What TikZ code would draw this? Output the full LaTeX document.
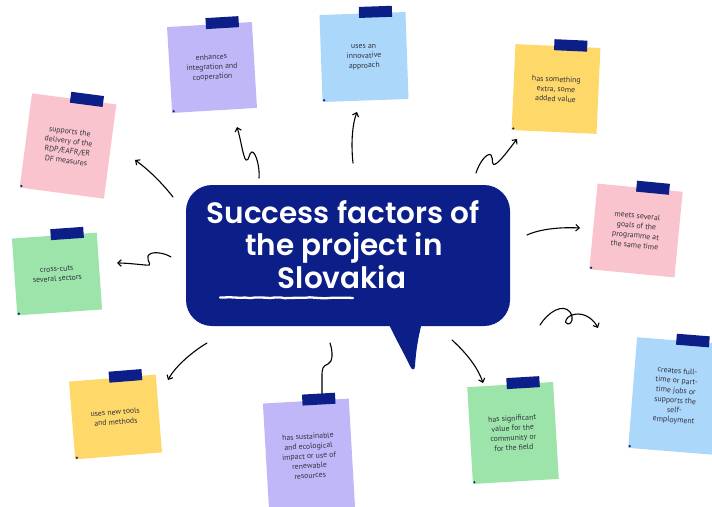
\documentclass[tikz,border=0pt]{standalone}
\usepackage{fontspec}
\setmainfont{PT Sans}
\newfontfamily\titlefont{Poppins}[UprightFont=* SemiBold]
\usetikzlibrary{arrows.meta,calc,decorations.pathmorphing}
\definecolor{navy}{HTML}{0C1E87}
\definecolor{npurple}{HTML}{BFB7F8}
\definecolor{nblue}{HTML}{AAD7FA}
\definecolor{nyellow}{HTML}{FFD86A}
\definecolor{npink}{HTML}{FAC4CE}
\definecolor{ngreen}{HTML}{9DE4AA}
\definecolor{notetext}{HTML}{34343F}
\tikzset{
 sticky/.style={fill=#1, inner sep=0pt, align=center, text=notetext,
   font=\fontsize{7.8}{9.8}\selectfont},
 tape/.style={fill=navy, minimum width=33pt, minimum height=11pt, inner sep=0pt},
 pin/.style={circle, fill=navy, inner sep=0pt, minimum size=2.4pt},
 arr/.style={line width=1.1pt, black, line cap=round,
   -{Straight Barb[length=3.5pt,width=6.5pt,line width=1.1pt]}},
 plain/.style={line width=1.1pt, black, line cap=round},
 ttl/.style={text=white, anchor=base, inner sep=0pt,
   font=\titlefont\fontsize{29.5}{33}\selectfont},
 bubble/.style={fill=navy, rounded corners=26pt, inner sep=0pt},
}
\newcommand{\stickynote}[7]{%
 \node[sticky=#4, minimum width=#5pt, minimum height=#6pt, rotate=#3] (#1) at (#2) {#7};
 \node[tape, rotate=#3] (#1tape) at ($(#1.north west)!0.65!(#1.north east)+(0,-1)$) {};
 \node[pin] (#1pin) at ($(#1.south west)!2.6pt!(#1.north east)$) {};
}
\begin{document}
\begin{tikzpicture}[x=1pt,y=-1pt]
\useasboundingbox (0,0) rectangle (712,506);
\fill[white] (0,0) rectangle (712,506);
\clip (0,0) rectangle (712,506);

% arrow end points
\coordinate (aS) at (173,197); \coordinate (aE) at (135,160);
\coordinate (bS) at (259,178); \coordinate (bE) at (237,127);
\coordinate (cS) at (353,163); \coordinate (cE) at (357,112);
\coordinate (dS) at (476,173); \coordinate (dE) at (517,139);
\coordinate (eS) at (527,235); \coordinate (eE) at (580,228);
\coordinate (fS) at (540,325); \coordinate (fE) at (598,328);
\coordinate (gS) at (452,340); \coordinate (gE) at (483,383);
\coordinate (hS) at (330,343); \coordinate (hE) at (322,396);
\coordinate (iS) at (207,343); \coordinate (iE) at (168,380);
\coordinate (jS) at (171,257); \coordinate (jE) at (117,263);

\draw[arr] (aS) .. controls (162,183) and (149,170) .. (aE);
\draw[arr] (bS) .. controls (260,168) and (256,152) .. (252,152)
  .. controls (249,152) and (249,162) .. (246,160)
  .. controls (243,157) and (241,140) .. (bE);
\draw[arr] (cS) .. controls (351,145) and (352,125) .. (cE);
\draw[arr] (dS) .. controls (479,163) and (487,152) .. (491,155)
  .. controls (494,159) and (490,168) .. (497,163)
  .. controls (503,158) and (510,148) .. (dE);
\draw[arr] (eS) .. controls (540,229) and (560,227) .. (eE);
\draw[arr] (fS) .. controls (548,312) and (563,303) .. (570,312)
  .. controls (574,318) and (572,324) .. (568,324)
  .. controls (563,324) and (566,314) .. (578,314)
  .. controls (588,314) and (595,322) .. (fE);
\draw[arr] (gS) .. controls (463,350) and (477,365) .. (gE);
\draw[plain] (hS) .. controls (333,352) and (333,362) .. (328,364)
  .. controls (323,366) and (322,368) .. (322,376) -- (hE);
\draw[arr] (iS) .. controls (195,350) and (176,365) .. (iE);
\draw[arr] (jS) .. controls (163,252) and (150,251) .. (148,256)
  .. controls (146,262) and (155,266) .. (145,265)
  .. controls (135,264) and (125,263) .. (jE);

% central speech bubble
\node[bubble, minimum width=324pt, minimum height=141pt] (bub) at (348,255.5) {};
\fill[navy] (386,318) .. controls (395,338) and (405,355) .. (410,366)
  .. controls (412,371) and (415,370) .. (415,366)
  .. controls (416,350) and (418,338) .. (423,318) -- cycle;
\node[ttl] (t1) at (343,223) {Success factors of};
\node[ttl] (t2) at (344,255) {the project in};
\node[ttl] (t3) at (342,288) {Slovakia};
\draw[white, line width=2.3pt, line cap=round,
  decorate, decoration={random steps, segment length=5pt, amplitude=0.5pt}]
  (220,297.5) -- (353,298);

% sticky notes
\stickynote{n1}{212,67.5}{3.4}{npurple}{85}{86}{enhances\\integration and\\cooperation}
\stickynote{n2}{364,57}{2}{nblue}{86}{87}{uses an\\innovative\\approach}
\stickynote{n3}{556,89}{-2.6}{nyellow}{85}{86}{has something\\extra, some\\added value}
\stickynote{n4}{68,146}{-7.5}{npink}{85}{95}{supports the\\delivery of the\\RDP/EAFR/ER\\DF measures}
\stickynote{n5}{57,274}{4}{ngreen}{85}{77}{cross-cuts\\several sectors}
\stickynote{n6}{115.5,417}{4.6}{nyellow}{87}{78}{uses new tools\\and methods}
\stickynote{n7}{309,456}{3.3}{npurple}{86}{110}{has sustainable\\and ecological\\impact or use of\\renewable\\resources}
\stickynote{n8}{513,433}{3.4}{ngreen}{86}{97}{has significant\\value for the\\community or\\for the field}
\stickynote{n9}{636,230.5}{-5.5}{npink}{85.5}{86}{meets several\\goals of the\\programme at\\the same time}
\stickynote{n10}{675.5,396}{-4.6}{nblue}{86}{111}{creates full-\\time or part-\\time jobs or\\supports the\\self-\\employment}
\end{tikzpicture}
\end{document}
